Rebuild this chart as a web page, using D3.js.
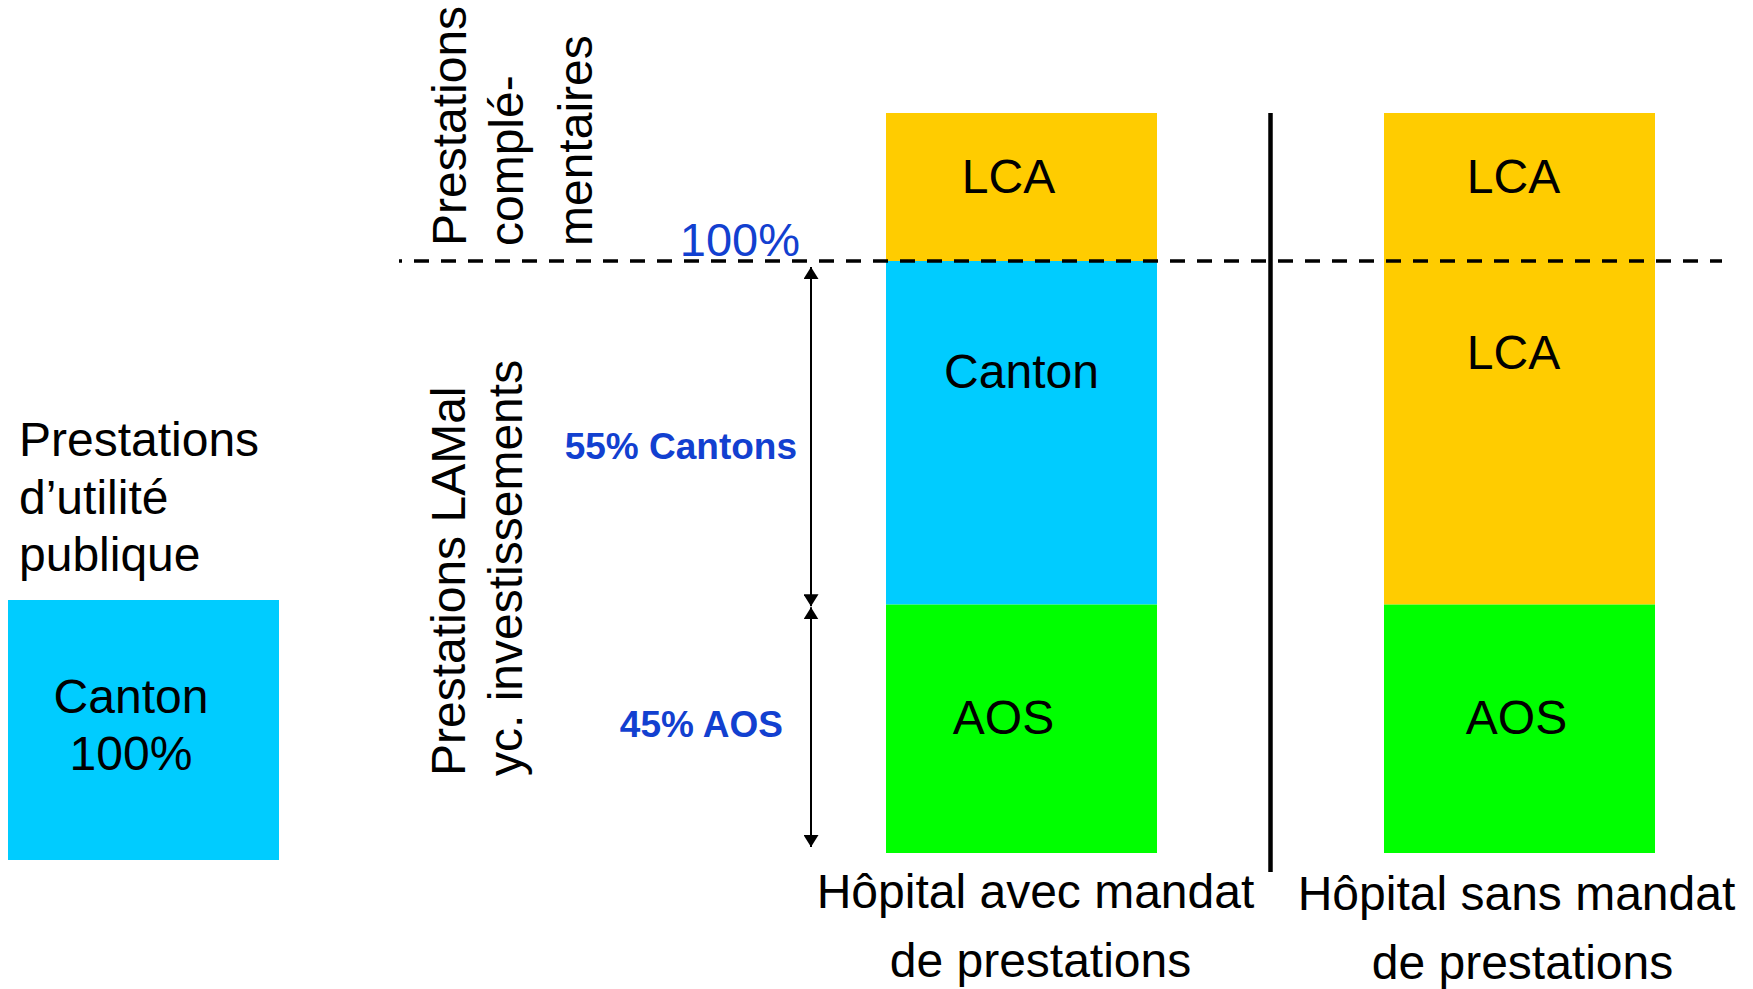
<!DOCTYPE html>
<html>
<head>
<meta charset="utf-8">
<script src="https://cdn.jsdelivr.net/npm/d3@7"></script>
<style>
body { margin: 0; background: #fff; }
text { font-family: "Liberation Sans", Arial, sans-serif; }
</style>
</head>
<body>
<div id="chart"></div>
<script>
// the two kinds of hospital (one stacked bar each)
const hospitals = ["avec", "sans"]
const hospitalLabels = [["Hôpital avec mandat", "de prestations"], ["Hôpital sans mandat", "de prestations"]]

// LAMal part paid by AOS (bar heights as drawn, in % of LAMal)
const aosShare = [42, 42]
// rest of the LAMal part, up to 100%
const restShare = [58, 58]
const restPayer = ["Canton", "LCA"]
// complementary services above the 100% line
const complShare = [25, 25]
const complPayer = ["LCA", "LCA"]

// left panel: public utility services
const publicShare = [100]
const publicPayer = ["Canton"]

// annotation texts
const splitLabels = ["55% Cantons", "45% AOS"]
const lineLabel = "100%"

const colors = { LCA: "#ffcc00", Canton: "#00ccff", AOS: "#00ff00" }
const blue = "#1240d0"
const fs = "48px"

const W = 1753, H = 989

var svg = d3.select("#chart")
  .append("svg")
  .attr("width", W)
  .attr("height", H)

// table for d3.stack
var table = hospitals.map(function(h, i) {
  return { hospital: h, aos: aosShare[i], rest: restShare[i], compl: complShare[i], i: i }
})
var keys = ["aos", "rest", "compl"]
var series = d3.stack().keys(keys)(table)

var x = d3.scaleBand()
  .domain(hospitals)
  .range([886, 1655])
  .paddingInner(227 / 498)
  .paddingOuter(0)

var y = d3.scaleLinear()
  .domain([0, 125])
  .range([853, 113])

function payer(key, i) {
  if (key == "aos") return "AOS"
  if (key == "rest") return restPayer[i]
  return complPayer[i]
}

// bars
svg.append("g").selectAll("g")
  .data(series)
  .enter()
  .append("g")
  .selectAll("rect")
  .data(function(s) { return s.map(function(d) { return { key: s.key, d: d } }) })
  .enter()
  .append("rect")
  .attr("x", function(e) { return x(e.d.data.hospital) })
  .attr("y", function(e) { return y(e.d[1]) })
  .attr("width", x.bandwidth())
  .attr("height", function(e) { return y(e.d[0]) - y(e.d[1]) })
  .attr("fill", function(e) { return colors[payer(e.key, e.d.data.i)] })

// labels inside the bars (small offsets to sit like the original)
var labelDx = { aos: [-18, -3], rest: [0, -6], compl: [-13, -6] }
var labelY = {
  aos: function(i) { return y(0) - 119 },
  rest: function(i) { return y(100) + (i == 0 ? 127 : 108) },
  compl: function(i) { return y(100) - 68 }
}
keys.forEach(function(k) {
  svg.append("g").selectAll("text")
    .data(table)
    .enter()
    .append("text")
    .attr("x", function(d) { return x(d.hospital) + x.bandwidth() / 2 + labelDx[k][d.i] })
    .attr("y", function(d) { return labelY[k](d.i) })
    .attr("text-anchor", "middle")
    .style("font-size", fs)
    .text(function(d) { return payer(k, d.i) })
})

// category labels under the bars
var catDx = [[14, 19], [-3, 3]]
table.forEach(function(d) {
  hospitalLabels[d.i].forEach(function(line, j) {
    svg.append("text")
      .attr("x", x(d.hospital) + x.bandwidth() / 2 + catDx[d.i][j])
      .attr("y", y(0) + 55 + j * 69 + (d.i == 1 ? 2 : 0))
      .attr("text-anchor", "middle")
      .style("font-size", fs)
      .text(line)
  })
})

// separator between the two hospitals
var sepX = (x("avec") + x.bandwidth() + x("sans")) / 2
svg.append("line")
  .attr("x1", sepX).attr("x2", sepX)
  .attr("y1", y(125)).attr("y2", y(0) + 19)
  .attr("stroke", "#000")
  .attr("stroke-width", 4.5)

// 100% dashed line
svg.append("line")
  .attr("x1", 399).attr("x2", 1722)
  .attr("y1", y(100)).attr("y2", y(100))
  .attr("stroke", "#000")
  .attr("stroke-width", 3.5)
  .attr("stroke-dasharray", "15,12")
  .attr("stroke-dashoffset", 12)

svg.append("text")
  .attr("x", 800).attr("y", y(100) - 5)
  .attr("text-anchor", "end")
  .attr("fill", blue)
  .style("font-size", "47px")
  .text(lineLabel)

// arrows for the LAMal split
var defs = svg.append("defs")
defs.append("marker")
  .attr("id", "head")
  .attr("viewBox", "0 0 12 15")
  .attr("refX", 12).attr("refY", 7.5)
  .attr("markerWidth", 12).attr("markerHeight", 15)
  .attr("markerUnits", "userSpaceOnUse")
  .attr("orient", "auto-start-reverse")
  .append("path")
  .attr("d", "M0,0 L12,7.5 L0,15 Z")
  .attr("fill", "#000")

var arrowX = 811
var arrows = [[y(100) + 6, y(aosShare[0]) + 2], [y(aosShare[0]) + 3, y(0) - 6]]
arrows.forEach(function(a) {
  svg.append("line")
    .attr("x1", arrowX).attr("x2", arrowX)
    .attr("y1", a[0]).attr("y2", a[1])
    .attr("stroke", "#000")
    .attr("stroke-width", 2)
    .attr("marker-start", "url(#head)")
    .attr("marker-end", "url(#head)")
})

svg.append("text")
  .attr("x", 797).attr("y", 459)
  .attr("text-anchor", "end")
  .attr("fill", blue)
  .style("font-size", "37px")
  .style("font-weight", "bold")
  .text(splitLabels[0])

svg.append("text")
  .attr("x", 783).attr("y", 737)
  .attr("text-anchor", "end")
  .attr("fill", blue)
  .style("font-size", "37px")
  .style("font-weight", "bold")
  .text(splitLabels[1])

// rotated row titles
function vtext(lines, xs, yBase) {
  lines.forEach(function(t, i) {
    svg.append("text")
      .attr("transform", "translate(" + xs[i] + "," + yBase + ") rotate(-90)")
      .style("font-size", fs)
      .text(t)
  })
}
vtext(["Prestations", "complé-", "mentaires"], [466, 523, 592], 246)
vtext(["Prestations LAMal", "yc. investissements"], [465, 522], 776)

// left panel: public utility services, 100% canton
var xl = d3.scaleBand().domain(["public"]).range([8, 279])
var yl = d3.scaleLinear().domain([0, 100]).range([860, 600])

svg.append("rect")
  .attr("x", xl("public"))
  .attr("y", yl(publicShare[0]))
  .attr("width", xl.bandwidth())
  .attr("height", yl(0) - yl(publicShare[0]))
  .attr("fill", colors[publicPayer[0]])

;[publicPayer[0], publicShare[0] + "%"].forEach(function(t, i) {
  svg.append("text")
    .attr("x", 131).attr("y", 713 + i * 57)
    .attr("text-anchor", "middle")
    .style("font-size", fs)
    .text(t)
})

;["Prestations", "d’utilité", "publique"].forEach(function(t, i) {
  svg.append("text")
    .attr("x", 19).attr("y", 456 + i * 57.5)
    .style("font-size", fs)
    .text(t)
})
</script>
</body>
</html>
